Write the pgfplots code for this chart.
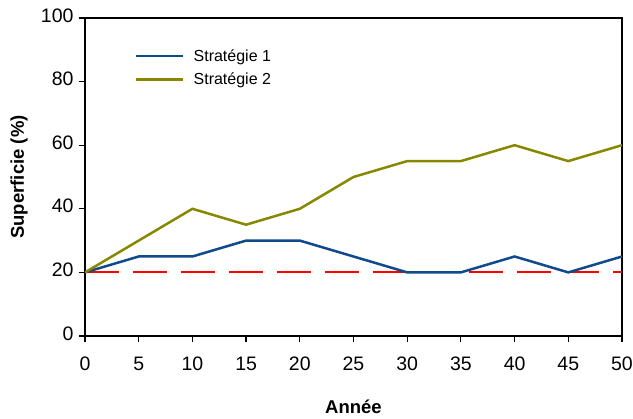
\documentclass[border=0pt]{standalone}
\usepackage{pgfplots}
\pgfplotsset{compat=1.18}
\usepackage{fontspec}
\setmainfont{Liberation Sans}
\definecolor{sblue}{RGB}{14,74,140}
\definecolor{solive}{RGB}{135,135,0}
\begin{document}
\begin{tikzpicture}
\useasboundingbox (-85pt,-83pt) rectangle (548pt,336pt);
\begin{axis}[
  at={(0,0)}, anchor=south west,
  scale only axis,
  width=537pt, height=318pt,
  xmin=0, xmax=50, ymin=0, ymax=100,
  xtick={0,5,...,50}, ytick={0,20,...,100},
  tick align=outside, xtick pos=bottom, ytick pos=left,
  major tick length=6pt,
  tick style={black, line width=1.2pt},
  x axis line style={black!75, line width=1.3pt},
  y axis line style={black, line width=1.7pt},
  /pgf/number format/assume math mode=true,
  typeset ticklabels with strut,
  ticklabel style={font=\fontsize{19.5}{21}\selectfont},
  xticklabel style={yshift=-10pt},
  yticklabel style={xshift=-2pt},
  xlabel={Année}, ylabel={Superficie (\%)},
  label style={font=\bfseries\fontsize{18.5}{20}\selectfont},
  xlabel style={at={(axis description cs:0.5,-0.224)}, anchor=center},
  ylabel style={at={(axis description cs:-0.1229,0.5)}, anchor=center, rotate=0},
  legend cell align=left,
  legend style={draw=none, fill=none, at={(axis description cs:0.093,0.905)}, anchor=north west,
    font=\fontsize{16}{18}\selectfont, inner sep=0pt, row sep=8pt, column sep=8pt,
    nodes={inner sep=1pt}},
  legend image code/.code={\draw[#1] (0pt,0pt) -- (47pt,0pt);},
]
\addplot[red, line width=1.8pt, dash pattern=on 34pt off 14pt, forget plot] coordinates {(0,20) (50,20)};
\addplot[sblue, line width=2.5pt] coordinates {
(0,20) (5,25) (10,25) (15,30) (20,30) (25,25) (30,20) (35,20) (40,25) (45,20) (50,25)};
\addlegendentry{Stratégie 1}
\addplot[solive, line width=2.5pt] coordinates {
(0,20) (5,30) (10,40) (15,35) (20,40) (25,50) (30,55) (35,55) (40,60) (45,55) (50,60)};
\addlegendentry{Stratégie 2}
\end{axis}
\end{tikzpicture}
\end{document}
